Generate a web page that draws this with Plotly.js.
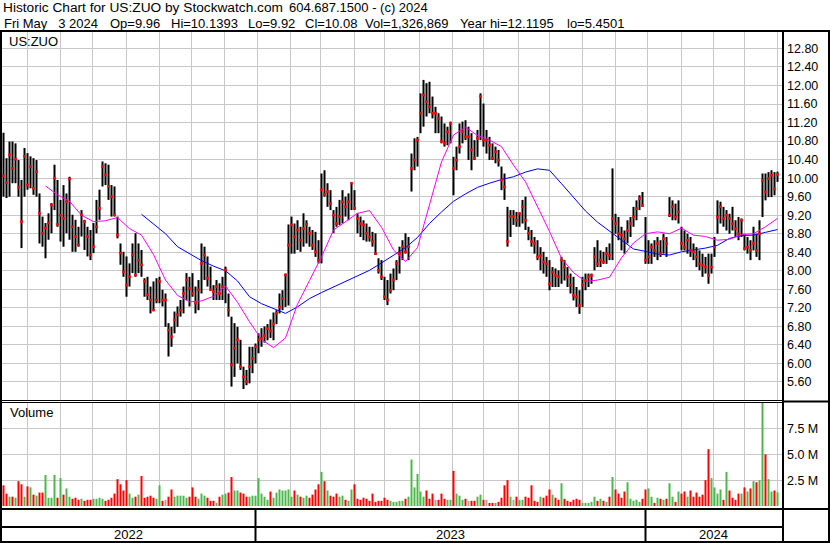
<!DOCTYPE html>
<html><head><meta charset="utf-8">
<script src="https://cdn.plot.ly/plotly-3.0.1.min.js"></script>
<style>html,body{margin:0;padding:0;background:#fff;overflow:hidden}#chart{width:830px;height:543px}</style>
</head><body><div id="chart"></div>
<script>
// ---------------- DATA ----------------
const firstBarDate = '2022-05-10';   // each bar = 2 trading days
const barStepDays = 2;

const high = [
10.98,10.43,10.79,10.79,10.75,10.39,9.96,10.65,10.54,10.47,
10.43,10.39,9.67,9.17,9.03,9.24,9.46,10.29,9.96,9.53,
9.85,9.67,10.03,9.21,9.10,8.95,9.31,9.10,8.95,8.88,
9.03,9.53,9.75,10.36,10.32,10.29,9.85,9.82,9.17,8.59,
8.41,8.31,8.16,8.59,8.81,8.59,8.45,7.84,7.87,7.66,
7.77,7.84,7.87,7.59,7.51,6.87,6.79,7.12,7.23,7.37,
7.66,7.95,7.87,7.95,7.66,7.80,8.59,8.52,8.31,8.09,
7.69,7.80,7.73,7.87,8.09,7.51,7.01,6.87,6.79,6.51,
5.93,5.86,6.36,6.36,6.43,6.65,6.76,6.80,6.85,6.95,
7.10,7.15,7.51,7.58,7.94,9.00,9.17,9.02,9.09,8.95,
9.24,9.09,8.95,8.88,8.84,8.66,10.10,10.17,9.89,9.74,
9.31,9.38,9.53,9.74,9.60,9.67,9.89,9.74,9.24,9.17,
9.09,9.02,8.95,8.84,8.81,8.27,8.23,7.87,7.80,7.94,
8.05,8.23,8.52,8.66,8.81,8.73,10.53,10.86,10.89,11.83,
12.12,12.05,12.08,11.76,11.54,11.40,11.33,11.18,11.11,11.22,
10.46,10.68,11.18,11.22,11.25,11.11,10.97,10.82,11.04,11.83,
11.61,11.04,10.89,10.75,10.68,10.61,10.25,10.10,9.38,9.31,
9.31,9.27,9.24,9.53,9.60,8.95,8.88,8.73,8.66,8.51,
8.41,8.30,8.23,8.08,8.05,8.01,8.30,8.23,8.08,7.94,
7.87,7.65,7.58,7.87,7.94,7.94,7.94,8.51,8.66,8.44,
8.41,8.51,8.59,10.21,9.23,9.16,8.95,8.87,9.09,9.16,
9.38,9.52,9.63,9.70,9.16,8.66,8.59,8.66,8.73,8.66,
8.80,8.73,9.59,9.52,9.45,9.52,8.95,8.87,8.80,8.73,
8.59,8.51,8.44,8.37,8.30,8.37,8.37,8.73,9.52,9.49,
9.38,9.31,9.23,9.38,9.09,9.16,9.13,8.80,8.73,8.66,
8.95,8.80,9.09,10.10,10.10,10.13,10.17,10.13,10.14];

const low = [
9.60,9.57,9.60,9.89,9.89,9.60,8.49,9.60,9.75,9.78,
9.64,9.60,8.59,8.52,8.27,8.67,8.81,9.31,8.95,8.63,
8.52,8.81,8.67,8.41,8.41,8.52,8.74,8.45,8.31,8.23,
8.38,8.81,9.10,9.82,9.85,9.53,9.17,9.17,8.70,8.13,
7.87,7.44,7.66,7.95,7.87,7.95,7.87,7.44,7.37,7.08,
7.15,7.30,7.30,7.23,6.79,6.15,6.36,6.65,6.79,7.01,
7.08,7.37,7.23,7.44,7.08,7.15,7.51,7.80,7.66,7.59,
7.37,7.37,7.37,7.37,7.30,7.01,5.50,5.71,6.00,5.86,
5.45,5.53,5.57,5.79,6.00,6.22,6.36,6.45,6.50,6.55,
6.50,6.85,7.08,7.15,7.22,7.25,8.37,8.37,8.45,8.41,
8.52,8.59,8.52,8.45,8.30,8.16,8.16,9.60,9.38,9.31,
8.81,8.95,8.99,9.02,9.17,9.09,9.31,9.31,8.81,8.73,
8.66,8.63,8.63,8.52,8.34,7.94,7.80,7.37,7.26,7.51,
7.58,7.80,7.94,8.23,8.37,8.23,9.71,10.17,10.25,10.97,
11.11,11.33,11.40,11.29,10.97,10.97,10.75,10.68,10.71,10.75,
9.63,10.17,10.53,10.75,10.82,10.39,10.17,10.39,10.46,10.82,
10.68,10.53,10.39,10.39,10.32,10.25,9.74,9.53,8.52,8.73,
8.99,8.95,8.95,9.02,8.88,8.66,8.52,8.37,8.23,8.01,
7.94,7.87,7.58,7.65,7.65,7.65,7.72,7.79,7.65,7.51,
7.36,7.22,7.07,7.22,7.58,7.65,7.72,8.01,8.08,8.08,
8.15,8.15,8.23,8.23,8.80,8.66,8.44,8.37,8.59,8.73,
8.95,9.09,9.31,9.38,8.15,8.15,8.15,8.30,8.23,8.30,
8.37,8.30,9.16,9.09,9.09,9.02,8.44,8.44,8.37,8.30,
8.23,8.08,8.01,7.87,7.94,7.72,7.94,8.30,8.80,9.02,
8.95,8.87,8.80,8.87,8.73,8.66,8.73,8.44,8.37,8.23,
8.44,8.30,8.23,9.16,9.52,9.59,9.59,9.63,9.92];

const close = [
10.05,9.90,10.50,10.21,10.41,9.80,9.06,10.47,9.85,10.25,
9.78,10.14,9.24,8.81,8.92,9.03,9.42,10.00,9.00,9.20,
9.13,9.49,9.98,8.95,8.74,8.56,9.21,9.06,8.74,8.34,
8.52,8.95,9.35,10.25,10.07,9.82,9.60,9.21,8.77,8.38,
7.98,7.69,7.87,8.34,7.91,8.23,8.13,7.77,7.48,7.37,
7.15,7.37,7.77,7.37,7.37,6.72,6.58,6.94,7.05,7.15,
7.51,7.80,7.62,7.51,7.30,7.59,8.16,8.34,7.84,7.59,
7.55,7.66,7.51,7.66,8.02,7.15,5.97,6.33,6.51,5.93,
5.71,5.61,5.93,6.11,6.36,6.51,6.54,6.60,6.75,6.70,
6.85,7.08,7.22,7.40,7.91,8.55,8.99,8.73,8.88,8.66,
8.91,9.00,8.81,8.55,8.41,8.23,9.75,9.65,9.71,9.45,
9.20,9.02,9.17,9.49,9.38,9.49,9.89,9.35,9.13,9.02,
8.99,8.81,8.73,8.63,8.37,8.01,7.87,7.44,7.37,7.58,
7.80,8.16,8.37,8.52,8.41,8.52,10.21,10.39,10.82,11.40,
11.79,11.65,11.54,11.40,11.40,11.29,10.79,10.75,11.00,11.18,
10.21,10.39,10.68,11.00,10.89,10.89,10.61,10.43,10.86,11.76,
10.82,10.82,10.71,10.43,10.57,10.39,9.96,9.81,8.63,9.17,
9.17,9.09,9.24,9.38,9.09,8.81,8.63,8.59,8.30,8.33,
8.19,8.15,7.72,7.97,7.90,7.87,8.23,8.08,7.87,7.69,
7.47,7.43,7.25,7.69,7.79,7.87,7.90,8.30,8.15,8.23,
8.19,8.37,8.33,9.13,9.02,8.80,8.77,8.69,8.87,9.02,
9.16,9.34,9.56,9.41,8.23,8.30,8.51,8.44,8.59,8.37,
8.69,8.59,9.20,9.38,9.16,9.27,8.59,8.51,8.66,8.44,
8.41,8.30,8.15,8.12,8.08,7.90,8.08,8.51,9.16,9.38,
9.13,9.20,9.13,9.02,8.91,8.80,9.09,8.48,8.51,8.44,
8.59,8.44,8.80,9.95,9.70,9.99,10.06,9.77,10.08];

// volume in millions of shares
const volumeM = [
2.0,1.2,0.9,0.9,0.8,2.4,2.1,0.9,1.9,1.8,
1.1,1.0,1.3,1.3,3.0,0.8,0.8,3.0,0.8,2.7,
1.1,1.7,0.9,0.7,0.8,0.6,0.7,0.5,0.6,0.6,
0.7,0.7,0.8,0.7,0.5,0.6,0.8,1.2,2.6,2.1,
1.5,2.5,1.2,0.8,0.9,1.1,2.9,0.8,0.9,1.0,
0.8,0.7,2.0,0.5,0.6,0.9,1.6,0.9,1.0,1.0,
1.0,0.8,0.9,1.8,0.9,0.7,1.2,1.0,0.8,0.5,
0.5,0.3,0.9,1.1,1.2,1.3,2.8,1.5,1.5,1.3,
1.2,0.9,0.9,1.0,1.0,2.7,1.2,0.9,0.6,1.4,
0.8,1.3,1.6,1.5,1.5,1.6,0.9,1.5,1.1,0.9,
0.8,1.0,0.8,1.1,1.6,2.1,3.3,2.4,1.5,1.0,
0.9,1.2,0.9,1.0,0.6,0.5,1.6,2.1,0.7,0.6,
0.8,0.7,0.5,1.2,0.4,0.5,0.5,0.8,0.6,0.5,
0.4,0.4,0.5,0.5,0.7,0.9,4.5,1.8,3.1,1.4,
0.9,1.5,0.7,1.2,0.6,0.6,1.2,0.7,0.6,0.6,
3.4,1.2,1.0,0.6,0.7,0.5,0.5,0.5,0.9,1.1,
0.6,0.6,0.3,0.3,0.3,0.4,0.8,2.0,2.5,0.9,
0.6,0.9,0.6,0.6,0.9,0.8,2.0,0.5,0.4,0.9,
0.8,1.0,1.6,1.1,0.8,0.6,2.2,0.7,0.5,0.4,
0.6,0.7,0.6,0.3,0.3,0.3,0.4,0.9,0.5,0.7,
0.5,0.4,0.9,2.8,1.6,1.2,0.8,1.4,2.3,0.7,
0.5,0.6,0.4,0.7,1.6,1.7,0.9,0.3,0.8,0.7,
0.6,0.7,2.2,0.9,0.4,1.4,1.2,1.4,0.9,1.5,
0.9,1.3,0.9,1.1,2.5,5.5,2.7,1.8,1.2,1.6,
0.6,3.3,1.5,0.8,0.6,1.2,1.2,1.8,1.4,1.7,
2.4,2.3,2.5,10.5,5.0,2.6,1.4,1.5,1.33];

// moving averages, sampled every 4th bar
const maFastStartBar = 14, maFastStep = 4;
const maFast = [
9.83,9.64,9.50,9.20,9.06,9.08,9.15,8.91,8.77,8.35,
7.80,7.47,7.33,7.35,7.45,7.67,7.32,6.90,6.52,6.34,
6.55,7.28,7.79,8.30,8.88,9.06,9.24,9.30,8.94,8.45,
8.20,8.50,9.40,10.35,10.93,11.10,10.92,10.82,10.68,10.28,
9.92,9.38,8.85,8.27,7.96,7.77,7.80,7.86,8.28,8.60,
8.80,8.84,8.80,8.92,8.77,8.74,8.66,8.68,8.78,8.80,
8.95,9.13];
const maSlowStartBar = 46, maSlowStep = 4;
const maSlow = [
9.22,9.00,8.80,8.52,8.37,8.22,8.10,8.00,7.78,7.44,
7.29,7.18,7.08,7.22,7.40,7.53,7.65,7.78,7.89,8.01,
8.17,8.33,8.50,8.72,9.02,9.27,9.50,9.66,9.80,9.89,
9.97,10.03,10.13,10.20,10.17,9.88,9.58,9.29,9.05,8.85,
8.65,8.47,8.42,8.36,8.34,8.41,8.45,8.49,8.55,8.70,
8.76,8.77,8.83,8.89];

const priceTicks = [5.6,6.0,6.4,6.8,7.2,7.6,8.0,8.4,8.8,9.2,9.6,10.0,10.4,10.8,11.2,11.6,12.0,12.4,12.8];
const volumeTicks = [2.5,5.0,7.5];
const volumeTickText = ['2.5 M','5.0 M','7.5 M'];
const yearLabels = ['2022','2023','2024'];
const symbolLabel = 'US:ZUO';
const volumeLabel = 'Volume';
const NB = '\u00a0';
const headerTitle = 'Historic Chart for US:ZUO by Stockwatch.com';
const headerPhone = '604.687.1500 - (c) 2024';
const headerFields = ['Fri May'+NB+NB+NB+'3 2024', 'Op=9.96', 'Hi=10.1393', 'Lo=9.92', 'Cl=10.08', 'Vol=1,326,869', 'Year hi=12.1195', 'lo=5.4501'];

// ---------------- helpers ----------------
const W = 830, H = 543;
const px = x => x / W, py = y => 1 - y / H;
const FONT = 'Liberation Sans, Arial, sans-serif';
function parseD(s){const a=s.split('-').map(Number);return new Date(Date.UTC(a[0],a[1]-1,a[2]));}
function fmt(d){return d.toISOString().slice(0,10);}
function addWeekdays(d,n){let k=0;let t=d;while(k<n){t=new Date(t.getTime()+86400000);const w=t.getUTCDay();if(w!==0&&w!==6)k++;}return t;}

const barDates = [];
{ let d = parseD(firstBarDate); for (let i=0;i<close.length;i++){ barDates.push(fmt(d)); d = addWeekdays(d, barStepDays);} }

// month gridlines: first weekday of each month
const monthTicks = [];
for (let y=2022, m=5; y<2024 || (y===2024 && m<=4); ){ let d=new Date(Date.UTC(y,m,1)); while(d.getUTCDay()===0||d.getUTCDay()===6) d=new Date(d.getTime()+86400000); monthTicks.push(fmt(d)); m++; if(m>11){m=0;y++;} }

// price bars as vertical segments
const bx=[], by=[];
for (let i=0;i<close.length;i++){ bx.push(barDates[i],barDates[i],null); by.push(low[i],high[i],null); }

// volume segments coloured by close change
const vUp={x:[],y:[]}, vDn={x:[],y:[]}, vFl={x:[],y:[]};
for (let i=0;i<volumeM.length;i++){
  const t = i===0 ? vDn : (close[i]>close[i-1] ? vUp : (close[i]<close[i-1] ? vDn : vFl));
  t.x.push(barDates[i],barDates[i],null); t.y.push(0,volumeM[i],null);
}
const maFastX = maFast.map((v,k)=>barDates[maFastStartBar+k*maFastStep]);
const maSlowX = maSlow.map((v,k)=>barDates[maSlowStartBar+k*maSlowStep]);

const traces = [
  {type:'scatter',mode:'lines',x:bx,y:by,xaxis:'x',yaxis:'y',line:{color:'#000000',width:2},hoverinfo:'skip'},
  {type:'scatter',mode:'lines',x:maSlowX,y:maSlow,xaxis:'x',yaxis:'y',line:{color:'#0000ff',width:1},hoverinfo:'skip'},
  {type:'scatter',mode:'lines',x:maFastX,y:maFast,xaxis:'x',yaxis:'y',line:{color:'#ff00ff',width:1},hoverinfo:'skip'},
  {type:'scatter',mode:'markers',x:barDates,y:close,xaxis:'x',yaxis:'y',marker:{symbol:'square',size:2.6,color:'#ff0000',line:{width:0}},hoverinfo:'skip'},
  {type:'scatter',mode:'lines',x:vUp.x,y:vUp.y,xaxis:'x',yaxis:'y2',line:{color:'#4cb84c',width:2},hoverinfo:'skip'},
  {type:'scatter',mode:'lines',x:vDn.x,y:vDn.y,xaxis:'x',yaxis:'y2',line:{color:'#ff0000',width:2},hoverinfo:'skip'},
  {type:'scatter',mode:'lines',x:vFl.x,y:vFl.y,xaxis:'x',yaxis:'y2',line:{color:'#a8a8a8',width:2},hoverinfo:'skip'}
];

function hline(y,x0,x1,w){return {type:'line',xref:'paper',yref:'paper',x0:px(x0),x1:px(x1),y0:py(y),y1:py(y),line:{color:'#000',width:w}};}
function vline(x,y0,y1,w){return {type:'line',xref:'paper',yref:'paper',x0:px(x),x1:px(x),y0:py(y0),y1:py(y1),line:{color:'#000',width:w}};}
const shapes = [
  hline(31,0,830,2), vline(1,31,543,2), vline(783,31,543,2), vline(829,31,543,2),
  hline(400.5,0,783,1), hline(402.5,0,783,1), hline(401.5,783,830,2),
  hline(509,0,830,2), hline(527,0,783,2), hline(542,0,830,2),
  vline(255.5,509,542,2), vline(645.5,509,542,2)
];
function txt(t,x,y,size,anchor){return {text:t,xref:'paper',yref:'paper',x:px(x),y:py(y),xanchor:anchor||'left',yanchor:'middle',showarrow:false,font:{family:FONT,size:size,color:'#000'}};}
const fieldX = [2, 108, 169, 246, 303, 363, 458, 565];
const annotations = [
  txt(headerTitle,1,8,13.7), txt(headerPhone,287,8,13),
  ...headerFields.map((f,i)=>txt(f,fieldX[i],23,13)),
  txt(symbolLabel,7,41,13), txt(volumeLabel,8,413,13),
  txt(yearLabels[0],128.5,534,13,'center'), txt(yearLabels[1],450,534,13,'center'), txt(yearLabels[2],713.5,534,13,'center')
];

const grid = '#c8c8c8';
const layout = {
  width:W, height:H, margin:{l:0,r:0,t:0,b:0,pad:0},
  paper_bgcolor:'#ffffff', plot_bgcolor:'#ffffff', showlegend:false,
  xaxis:{type:'date',domain:[px(2),px(782)],range:['2022-05-09','2024-05-06'],
    rangebreaks:[{bounds:['sat','mon']}],anchor:'y2',
    tickmode:'array',tickvals:monthTicks,showticklabels:false,ticks:'',
    showgrid:true,gridcolor:grid,gridwidth:1,zeroline:false,showline:false,fixedrange:true},
  yaxis:{domain:[py(400),py(32)],range:[5.211,13.154],side:'right',anchor:'x',
    tickmode:'array',tickvals:priceTicks,ticktext:priceTicks.map(v=>v.toFixed(2)),
    ticks:'',ticklabelstandoff:4,tickfont:{family:FONT,size:12.5,color:'#000'},
    showgrid:true,gridcolor:grid,gridwidth:1,zeroline:false,showline:false,fixedrange:true},
  yaxis2:{domain:[py(506),py(403)],range:[0,9.97],side:'right',anchor:'x',
    tickmode:'array',tickvals:volumeTicks,ticktext:volumeTickText,
    ticks:'',ticklabelstandoff:4,tickfont:{family:FONT,size:12.5,color:'#000'},
    showgrid:true,gridcolor:grid,gridwidth:1,zeroline:false,showline:false,fixedrange:true},
  shapes:shapes, annotations:annotations
};
Plotly.newPlot('chart', traces, layout, {staticPlot:true, displayModeBar:false});
</script></body></html>
